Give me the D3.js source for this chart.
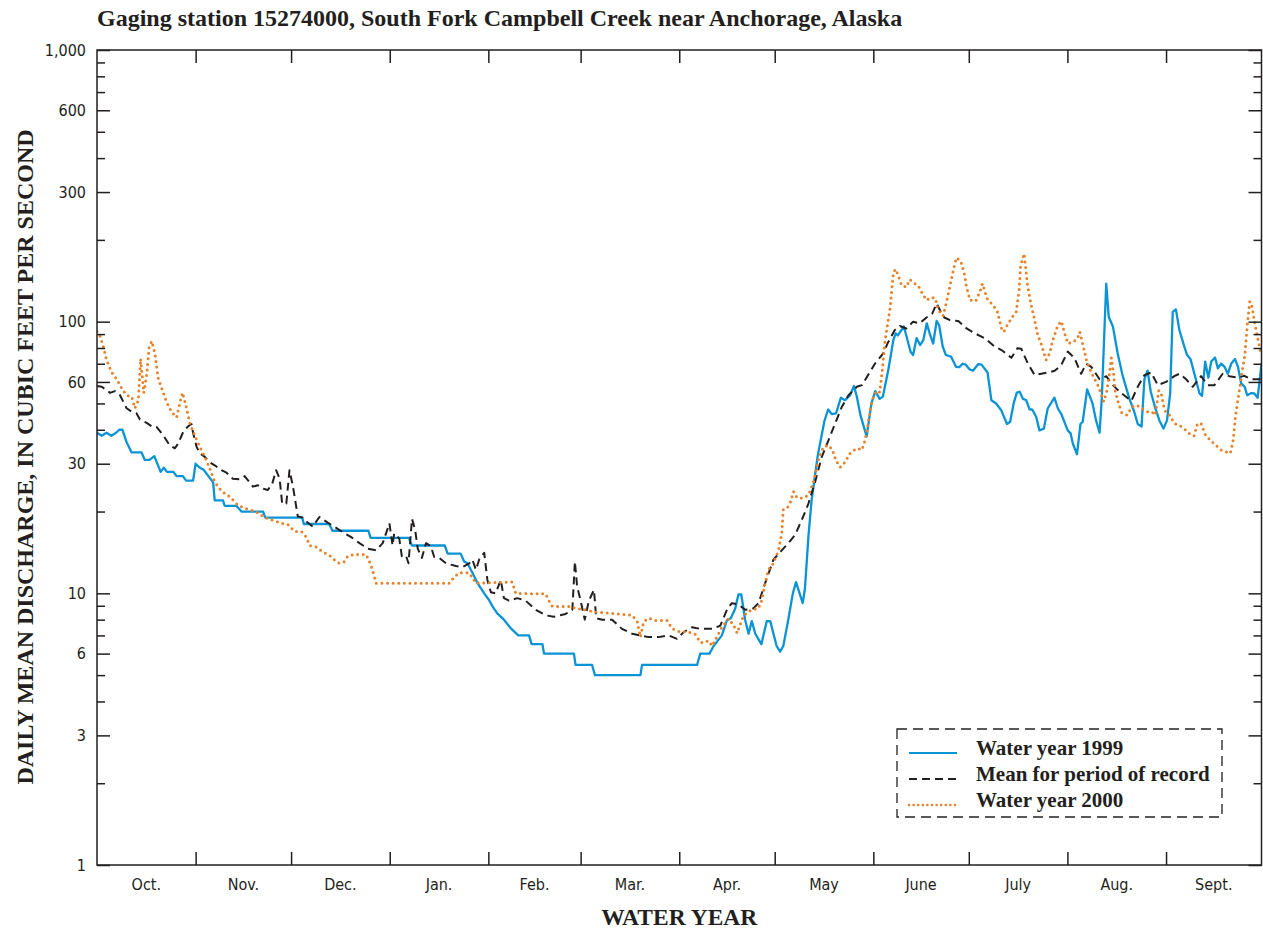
<!DOCTYPE html>
<html lang="en">
  <head>
    <meta charset="UTF-8" />
    <title>South Fork Campbell Creek discharge</title>
    <script src="https://d3js.org/d3.v7.min.js"></script>
    <style>
      body { margin: 0; background: #fff; }
      .serif { font-family: "Liberation Serif", "Times New Roman", serif; font-weight: bold; fill: #231f20; }
      .cond { font-family: "Liberation Sans Narrow", "DejaVu Sans Condensed", "Arial Narrow", sans-serif; fill: #231f20; }
    </style>
  </head>
  <body>
    <svg width="1263" height="930"></svg>
    <script>
      // month boundaries in days from Oct. 1 (water year 2000, leap year)
      const monthStarts = [0, 31, 61, 92, 123, 152, 183, 213, 244, 274, 305, 336, 366];
      const monthNames = ["Oct.", "Nov.", "Dec.", "Jan.", "Feb.", "Mar.", "Apr.", "May", "June", "July", "Aug.", "Sept."];
      const yLabels = [1, 3, 6, 10, 30, 60, 100, 300, 600, 1000];

      // [day of water year, daily mean discharge ft3/s]
      const wy1999 = [[0,39],[1.5,38],[3,39],[4.5,38],[6,39],[7,40],[8,40],[9.3,36],[10.9,33],[14,33],[15,31],[16.5,31],[18,32],[20,28],[21,29],[22,28],[24,28],[25,27],[27,27],[28,26],[30.2,26],[31,30],[32.3,29],[33.5,28.5],[36.5,25.6],[37,22],[39.6,22],[40.1,21],[43.8,21],[45.4,20],[52.2,20],[52.9,19],[64.5,19],[65,18],[73,18],[74,17],[85.3,17],[86,16],[98,16],[99,15],[109.3,15],[110.2,14],[114.3,14],[115.4,13.1],[116.4,12.9],[118,11.9],[119.6,10.9],[121.7,10],[123.2,9.45],[124.3,8.95],[125.8,8.44],[127.9,8],[130,7.45],[132.4,7],[135.8,7],[136.6,6.5],[140,6.5],[140.5,6],[149.9,6],[150.4,5.45],[155.6,5.45],[156.5,5],[170.8,5],[171.3,5.45],[188.6,5.45],[189.6,6],[192.5,6],[193.8,6.4],[196.4,7],[198,7.96],[199.2,8.1],[200.6,8.8],[201.6,9.9],[202.5,9.9],[203.7,8],[204.8,7.1],[205.8,7.9],[206.9,7.1],[208.8,6.5],[210.5,7.9],[211.6,7.9],[213.6,6.4],[214.7,6.1],[215.7,6.4],[217.1,7.8],[218.7,10],[219.7,11],[221.8,9.2],[222.5,10.4],[223.6,16.2],[224.6,22],[226.5,32],[228.6,43],[229.8,47.5],[230.9,45.7],[232.3,46],[233.8,52.5],[235.1,51.4],[236.7,53.6],[237.9,58],[238.8,53],[240,45],[241.9,37.8],[243.4,50],[244.6,55.5],[246,52],[247,53],[248.7,66.4],[250.3,85.5],[251,90.6],[251.7,89],[253.6,96],[255.7,77.5],[256.5,75.4],[257.6,87],[258.7,82],[259.7,85.5],[260.8,98.6],[261.7,90.6],[262.8,83],[263.9,100.6],[264.7,97],[265.8,81],[266.8,75.4],[268.4,74.4],[270,68.2],[271,68],[272.1,70],[273,69.5],[274.2,66.8],[275.3,66],[277,69.8],[278,69.5],[279.9,65],[281.1,51.4],[282.6,50],[284.2,47.2],[286,42],[287,42.8],[288.1,50],[289.1,54.8],[290,55.2],[291,52],[292,51.5],[293.1,47.6],[294,47.4],[295.2,44.6],[296.2,39.8],[297.6,40.4],[298.8,47.9],[300.9,52.5],[302,47.9],[303,45.9],[305.1,39.8],[306,38.8],[306.7,35.6],[308,32.5],[309.1,42],[309.8,42.8],[311.2,56.3],[312.9,50],[314,43.3],[315.1,39],[315.8,52],[317.2,138],[318,104],[319.3,96],[320.8,76.4],[322.4,63],[324.5,52],[326,46.6],[327.1,42],[328.3,41.1],[329.2,61.4],[330.2,66],[331.2,55.2],[332.5,48.6],[333.9,43.3],[335.2,40.4],[336.3,43.3],[337.3,54.5],[338.1,108.7],[339.1,111],[340.2,93],[341.6,82],[342.6,75.4],[343.7,72.8],[344.9,64.3],[346.5,54.5],[347.3,53.3],[348.3,71.3],[349.3,62.2],[350.2,71.3],[351.4,73.8],[352.3,67.3],[353.3,70.1],[354.4,68.2],[355.4,64.3],[356.5,70.1],[357.7,72.8],[358.6,68.2],[359.6,59.3],[360.7,57.6],[361.5,53.6],[362.8,54.6],[363.7,54.5],[364.8,52.5],[366,70]];

      const meanRecord = [[0,58],[1.5,57.6],[3,56],[4.1,54.7],[5.6,55.5],[7.2,53.7],[9.3,48],[10.9,46.6],[12.4,46],[13.5,43.6],[15.6,42.4],[17.2,41.2],[18.7,41],[20.8,38.2],[22.9,35],[24.5,34.2],[25.5,35.6],[27.1,39.3],[28.6,41.2],[29.7,42],[30.2,39],[31.3,34.6],[32.3,32.8],[33.9,31.8],[35.4,30.4],[37,29.6],[39.1,28.4],[40.7,27.8],[42.7,26.4],[44.8,26.3],[46.4,27],[47.4,26.1],[49,24.7],[50.6,25],[52.2,24.3],[53.7,24],[55.1,25.4],[56.3,28.4],[57.4,26.4],[58.2,21.4],[59.5,21.4],[60.5,28.4],[61.6,24.7],[63.1,19.2],[64.7,19],[65.8,18.4],[67.8,17.6],[69.9,19.1],[72.5,18.2],[74.6,17.6],[77.2,16.8],[79.9,16.1],[82.5,15.3],[85.1,14.6],[87.7,14.4],[89.8,15.3],[91.9,18.1],[92.9,15],[93.4,16.6],[95,15.9],[95.8,13.7],[97.1,13.8],[97.9,12.9],[99,18.8],[100,17.1],[100.8,14.6],[102.1,13.5],[103.4,15.3],[104.9,14.9],[106,13.6],[107.6,13.5],[109.7,12.9],[112.8,12.6],[114.9,12.5],[117,12.9],[118,13.3],[119.1,12.2],[120.1,13.3],[121.7,14.1],[122.7,11.2],[123.8,10.1],[125.3,10],[126.9,11.2],[127.9,9.6],[129.5,9.4],[132.1,9.6],[134.7,9.4],[137.9,8.7],[141,8.3],[143.6,8.2],[147.3,8.4],[149.4,8.7],[150.2,13.1],[150.9,10.6],[152,9.4],[153.3,8],[154.6,9.4],[156.2,10.3],[156.9,8.1],[158.8,8],[161.9,8],[165,7.4],[168.2,7.1],[170.8,7],[173.4,6.9],[176.5,6.9],[179.6,7],[182.3,6.8],[184.4,7.2],[187,7.5],[189.6,7.4],[193.3,7.4],[195.9,7.6],[198,8.7],[199.5,9.2],[201.6,9.1],[203.7,8.7],[206.3,8.8],[207.9,9.2],[210,10.9],[212.6,13.3],[215.2,14.4],[217.3,15.3],[219.4,16.4],[221.5,18.6],[223.6,21.4],[225.7,25.7],[227.8,31.8],[229.9,36.6],[232,42.2],[234.1,48.6],[236.2,53.6],[238.8,57.6],[240.4,58.4],[242.5,64],[244.5,70],[247.1,76.4],[248.7,84.2],[250.7,93],[252.3,96.4],[254.4,94.4],[256.5,100],[258.6,98.6],[260.7,103.6],[262.5,107],[263.9,116.6],[265,110],[266.3,103.6],[268.1,101.3],[270.7,100.6],[273.3,94.4],[275.9,90.6],[279.1,86.8],[282.2,80.8],[284.3,78.6],[287.4,73.6],[289.3,79.9],[290.5,79.5],[292.6,70],[294.7,63.6],[296.8,64.3],[299.4,65.2],[301,66],[303,69],[305.1,77.6],[307.2,73.6],[309.3,64.3],[310.9,70],[312.5,68.2],[315.1,61.4],[317.2,63],[319.3,58.4],[321.4,55.2],[323.5,52.8],[325.1,51.1],[327.1,57.6],[329.2,63.6],[331.3,65],[333.4,58.4],[336,60],[338.6,63],[340.2,64.3],[342.3,61.4],[344.4,57.6],[347,63],[349.1,58.4],[351.2,58.4],[353.8,64.3],[355.9,63],[358.5,62.2],[360.6,63.2],[362.7,61.4],[366,61.4]];

      const wy2000 = [[0,92],[0.9,89],[2,80.8],[3,72.3],[4.6,65.2],[6.2,61.4],[7.7,57],[9.3,53.6],[10.9,53],[11.9,48],[13,51.4],[13.7,73],[14.3,61.4],[14.7,54.7],[15.6,63.6],[16.4,80.8],[17.2,84.8],[18.2,76.4],[19.2,62.2],[20.3,57],[21.8,50.8],[23.4,46.6],[25,44.4],[26,50],[26.9,54.8],[27.9,49.3],[29.2,42.2],[30.7,38.2],[32.3,34.6],[33.9,31.8],[35.4,28.9],[37,25.7],[39.1,23.8],[41.7,22.7],[44.3,21.1],[46.9,20.5],[50.1,19.9],[53.2,18.9],[56.3,18.4],[59.5,17.9],[60,17.9],[62.1,16.9],[64.2,16.9],[65.8,16.1],[66.8,15],[68.9,14.8],[71,14.2],[73.1,13.8],[74.6,13.3],[76.2,12.9],[77.8,13.1],[78.8,13.7],[80.9,13.9],[84.6,13.9],[85.6,13.1],[86.6,12.2],[87.7,10.9],[110.7,10.9],[112.3,11.5],[113.8,11.9],[117,11.9],[118,11.4],[119.1,10.9],[130.5,11],[131.6,10],[141,9.95],[142,9.4],[143.1,8.95],[148.8,8.95],[150.4,8.8],[153.6,8.7],[156.2,8.56],[168.2,8.3],[169.8,7.86],[170.8,6.9],[171.8,7.86],[173.4,8.1],[175.5,7.94],[179.2,7.94],[180.7,7.43],[182.9,7.24],[186,7.2],[188.1,7.06],[189.6,6.6],[190.7,6.58],[192.2,6.7],[193.3,6.4],[194.8,6.9],[196.4,7.5],[198.5,8.07],[200.1,7.63],[201.2,7.13],[202.3,7.76],[203.3,8.3],[205.8,8.73],[207.9,8.8],[208.9,9.4],[210,10.9],[211,12.2],[212.6,12.9],[214.2,14.4],[215.2,16.6],[215.7,20.3],[216.8,20.5],[217.8,21.4],[218.9,23.7],[220,22.5],[222,22.4],[223.6,23],[225.2,25.7],[226.7,30.9],[228.3,34.6],[229.9,35.1],[231.1,33.8],[232.2,30.9],[233.6,29.1],[235.1,30.4],[236.7,32.8],[238.8,34.2],[240.4,33.7],[241.4,36.6],[242.5,43.3],[243.6,51.4],[245.1,55.7],[246,55],[246.7,64.3],[247.7,85.5],[249.3,113],[250.3,152],[251,156],[251.8,148],[252.9,136],[254.4,134],[255.4,143],[257.1,138],[258.1,136],[259.1,129],[260.7,120],[262.2,123],[263.5,122],[264.3,111],[265.9,105],[267,118],[268,134],[269.1,154],[270.1,172],[271.5,167],[272.6,150],[273.3,134],[274.4,120],[276.2,119],[277.6,130],[278.3,138],[279.7,122],[281.3,116],[282.9,110],[284.3,94.4],[285,91.7],[286.1,97.2],[287.9,105],[288.9,108.7],[289.8,130],[290.3,161],[291.4,178],[292.4,138],[293.5,116.6],[294.5,104],[295.6,90],[296.7,83],[298.3,72.3],[299.4,76.4],[300.4,85.5],[302,97],[303.1,100.4],[304.1,90.6],[305.2,83],[306.8,84.2],[308.2,86.8],[308.9,91.7],[310,80.8],[311.1,71.3],[312.7,64.3],[314.8,57.6],[316.4,50.8],[317.4,55.7],[318.2,64.3],[318.8,73.6],[319.5,64.3],[320,55.7],[321.1,49.9],[322.1,46.2],[323.7,45.3],[325.3,48.6],[326.9,49.3],[328.4,47.9],[330,46.6],[331.5,46.6],[332.6,45.3],[333.7,55.7],[334.4,55],[335.5,47.2],[337.1,45.3],[338.6,42.2],[340.2,41.6],[342.3,39.8],[343.9,38.2],[344.8,38],[345.9,42.2],[347,42.2],[348.3,38.5],[349.9,36.6],[351.5,35.2],[353.1,33.8],[354.6,33.2],[356.2,32.8],[357.1,36.6],[357.8,44.6],[358.9,54.5],[360,66.4],[360.7,74.4],[361.6,98.6],[362.3,118.7],[363.1,113],[363.7,101.3],[364.7,88],[366,75]];

      const series = [
        { name: "Water year 1999", data: wy1999, color: "#0a93d5", width: 2.3, dash: null, cap: "butt" },
        { name: "Mean for period of record", data: meanRecord, color: "#231f20", width: 2, dash: "8,5", cap: "butt" },
        { name: "Water year 2000", data: wy2000, color: "#e8822a", width: 3, dash: "0,5.6", cap: "round" }
      ];

      const ink = "#231f20";
      const pL = 97, pR = 1261.5, pT = 50, pB = 865;
      const svg = d3.select("svg");

      const x = d3.scaleLinear().domain([0, 366]).range([pL, pR]);
      const y = d3.scaleLog().domain([1, 1000]).range([pB, pT]);

      // title
      svg.append("text").attr("class", "serif")
        .attr("x", pL).attr("y", 26).attr("font-size", 24)
        .text("Gaging station 15274000, South Fork Campbell Creek near Anchorage, Alaska");

      // data lines, clipped to frame
      svg.append("clipPath").attr("id", "plotclip")
        .append("rect").attr("x", pL).attr("y", pT)
        .attr("width", pR - pL).attr("height", pB - pT);

      const line = d3.line().x(d => x(d[0])).y(d => y(d[1]));
      svg.append("g").attr("clip-path", "url(#plotclip)")
        .selectAll("path")
        .data(series)
        .enter()
        .append("path")
        .attr("d", d => line(d.data))
        .attr("fill", "none")
        .attr("stroke", d => d.color)
        .attr("stroke-width", d => d.width)
        .attr("stroke-dasharray", d => d.dash)
        .attr("stroke-linecap", d => d.cap)
        .attr("stroke-linejoin", "round");

      // frame
      svg.append("rect")
        .attr("x", pL).attr("y", pT)
        .attr("width", pR - pL).attr("height", pB - pT)
        .attr("fill", "none").attr("stroke", ink).attr("stroke-width", 1.5);

      // y ticks: labelled majors plus every integer minor, both sides, inward
      const minor = [];
      [1, 10, 100].forEach(dec => d3.range(2, 10).forEach(k => {
        if (!yLabels.includes(k * dec)) minor.push(k * dec);
      }));
      const yAxisL = d3.axisRight(y).tickValues(yLabels).tickSize(13).tickFormat("");
      const yAxisLm = d3.axisRight(y).tickValues(minor).tickSize(8).tickFormat("");
      const yAxisR = d3.axisLeft(y).tickValues(yLabels).tickSize(13).tickFormat("");
      const yAxisRm = d3.axisLeft(y).tickValues(minor).tickSize(8).tickFormat("");
      [[yAxisL, pL], [yAxisLm, pL], [yAxisR, pR], [yAxisRm, pR]].forEach(([ax, px]) => {
        const g = svg.append("g").attr("transform", `translate(${px},0)`).call(ax);
        g.select(".domain").remove();
        g.selectAll("line").attr("stroke", ink).attr("stroke-width", 1.5);
      });

      // y tick labels
      svg.append("g").selectAll("text")
        .data(yLabels).enter().append("text")
        .attr("class", "cond").attr("font-size", 16)
        .attr("text-anchor", "end")
        .attr("x", pL - 11).attr("y", d => y(d)).attr("dy", "0.36em")
        .text(d => d3.format(",")(d));

      // month ticks top and bottom
      const inner = monthStarts.slice(1, -1);
      const xAxisB = d3.axisTop(x).tickValues(inner).tickSize(13).tickFormat("");
      const xAxisT = d3.axisBottom(x).tickValues(inner).tickSize(13).tickFormat("");
      [[xAxisB, pB], [xAxisT, pT]].forEach(([ax, py]) => {
        const g = svg.append("g").attr("transform", `translate(0,${py})`).call(ax);
        g.select(".domain").remove();
        g.selectAll("line").attr("stroke", ink).attr("stroke-width", 1.5);
      });

      // month names centred in each month
      svg.append("g").selectAll("text")
        .data(monthNames).enter().append("text")
        .attr("class", "cond").attr("font-size", 16)
        .attr("text-anchor", "middle")
        .attr("x", (d, i) => x((monthStarts[i] + monthStarts[i + 1]) / 2))
        .attr("y", 890)
        .text(d => d);

      // axis titles
      svg.append("text").attr("class", "serif")
        .attr("x", (pL + pR) / 2).attr("y", 925)
        .attr("text-anchor", "middle").attr("font-size", 23.5)
        .text("WATER YEAR");
      svg.append("text").attr("class", "serif")
        .attr("transform", "translate(33,457) rotate(-90)")
        .attr("text-anchor", "middle").attr("font-size", 24)
        .text("DAILY MEAN DISCHARGE, IN CUBIC FEET PER SECOND");

      // legend
      const lg = svg.append("g").attr("transform", "translate(897,729)");
      lg.append("rect").attr("width", 325).attr("height", 88)
        .attr("fill", "#fff").attr("stroke", ink).attr("stroke-width", 1.3)
        .attr("stroke-dasharray", "10,6");
      const rows = lg.selectAll("g.row").data(series).enter().append("g")
        .attr("class", "row")
        .attr("transform", (d, i) => `translate(0,${24 + i * 26})`);
      rows.append("line")
        .attr("x1", 12).attr("x2", 60)
        .attr("stroke", d => d.color)
        .attr("stroke-width", d => d.width === 3 ? 2.6 : 2)
        .attr("stroke-dasharray", d => d.dash === "0,5.6" ? "0,4.6" : d.dash)
        .attr("stroke-linecap", d => d.cap);
      rows.append("text").attr("class", "serif")
        .attr("x", 79).attr("y", 2).attr("font-size", 21)
        .text(d => d.name);
    </script>
  </body>
</html>
